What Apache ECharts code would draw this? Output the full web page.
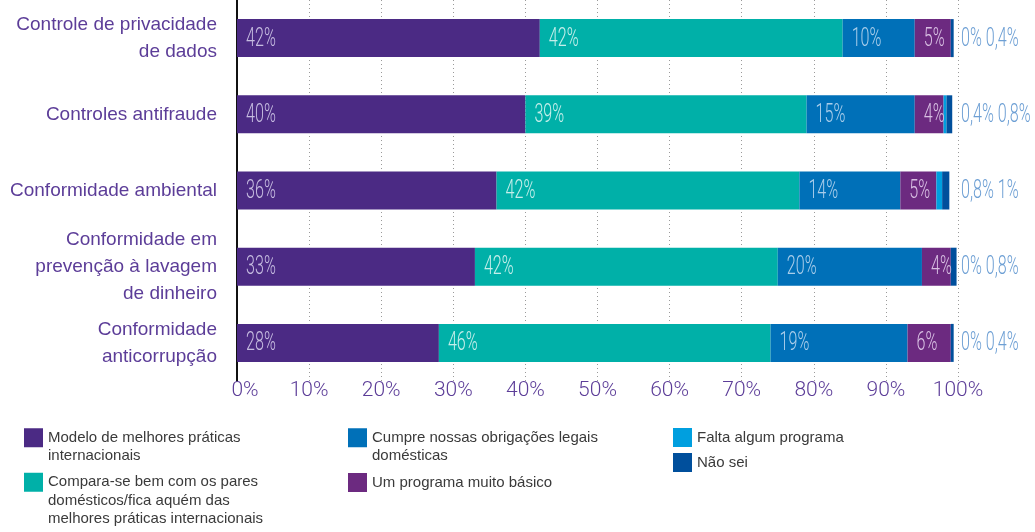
<!DOCTYPE html>
<html>
<head>
<meta charset="utf-8">
<script src="https://cdn.jsdelivr.net/npm/echarts@6/dist/echarts.min.js"></script>
<style>
  html, body { margin: 0; padding: 0; background: #fff; }
  #chart { width: 1035px; height: 532px; }
</style>
</head>
<body>
<div id="chart"></div>
<script>
// Program areas (top to bottom)
const categories = [
  'Controle de privacidade\nde dados',
  'Controles antifraude',
  'Conformidade ambiental',
  'Conformidade em\nprevenção à lavagem\nde dinheiro',
  'Conformidade\nanticorrupção'
];

// Share of respondents per maturity level (%)
const modelo   = [42, 40, 36, 33, 28];
const compara  = [42, 39, 42, 42, 46];
const cumpre   = [10, 15, 14, 20, 19];
const basico   = [5, 4, 5, 4, 6];
const falta    = [0, 0.4, 0.8, 0, 0];
const naoSei   = [0.4, 0.8, 1, 0.8, 0.4];

const xTicks = [0, 10, 20, 30, 40, 50, 60, 70, 80, 90, 100];

const seriesNames = [
  'Modelo de melhores práticas\ninternacionais',
  'Compara-se bem com os pares\ndomésticos/fica aquém das\nmelhores práticas internacionais',
  'Cumpre nossas obrigações legais\ndomésticas',
  'Um programa muito básico',
  'Falta algum programa',
  'Não sei'
];
const colors = ['#4b2a84', '#00b0a8', '#0070b8', '#6c2a80', '#009fdf', '#004f9c'];
const labelColors = ['#c6bce0', '#c4eeea', '#a9cdea', '#d8bfe2'];
const sideLabelColor = '#6d9fd4';

const sans = "'Liberation Sans', Arial, sans-serif";
const fmt = v => String(v).replace('.', ',');

const chart = echarts.init(document.getElementById('chart'), null, { renderer: 'canvas' });

const stacked = [modelo, compara, cumpre, basico, falta, naoSei];

const bars = stacked.map((data, idx) => ({
  name: seriesNames[idx],
  type: 'bar',
  stack: 'total',
  barWidth: 38,
  data: data,
  itemStyle: { color: colors[idx] },
  emphasis: { disabled: true }
}));

// Value labels: placed at the start of each segment, plus the two small
// categories shown together to the right of each bar.
const labelItems = [];
categories.forEach((c, i) => {
  let start = 0;
  stacked.forEach((arr, s) => {
    if (s < 4) {
      labelItems.push({ x: start, cat: i, text: fmt(arr[i]) + '%', color: labelColors[s], dx: 9 });
    }
    start += arr[i];
  });
  labelItems.push({
    x: 100, cat: i,
    text: fmt(falta[i]) + '% ' + fmt(naoSei[i]) + '%',
    color: sideLabelColor, dx: 3
  });
});

const labelSeries = {
  type: 'custom',
  name: 'labels',
  coordinateSystem: 'cartesian2d',
  silent: true,
  z: 5,
  data: labelItems.map(d => [d.x, d.cat]),
  encode: { x: 0, y: 1 },
  renderItem: (params, api) => {
    const d = labelItems[params.dataIndex];
    const p = api.coord([api.value(0), api.value(1)]);
    return {
      type: 'text',
      x: p[0] + d.dx,
      y: p[1] + 1,
      scaleX: 0.62,
      style: {
        text: d.text,
        fontFamily: 'Roboto, sans-serif',
        fontWeight: 300,
        fontSize: 26,
        fill: d.color,
        align: 'left',
        verticalAlign: 'middle'
      }
    };
  }
};

// Legend: one component per entry, laid out in three columns.
// Leading blank lines keep the swatch level with the first text line.
const LH = 18.5;
function legendItem(idx, left, top, lines) {
  return {
    data: [seriesNames[idx]],
    left: left,
    top: top,
    padding: 0,
    itemWidth: 19,
    itemHeight: 19,
    icon: 'rect',
    selectedMode: false,
    formatter: name => '\n'.repeat(lines - 1) + name,
    textStyle: { fontSize: 15, color: '#3a3a3a', lineHeight: LH, fontFamily: sans }
  };
}

const option = {
  animation: false,
  color: colors,
  grid: { left: 237, right: 77, top: 0, height: 381, containLabel: false },
  xAxis: {
    type: 'value',
    min: 0,
    max: 100,
    interval: 10,
    axisLine: { show: false },
    axisTick: { show: false },
    axisLabel: {
      margin: -1,
      fontSize: 21,
      color: '#5c3d98',
      fontFamily: 'Roboto, sans-serif',
      fontWeight: 300,
      formatter: v => {
        if (!xTicks.includes(v)) return '';
        return v === 0 ? '{first|0%}' : v + '%';
      },
      rich: {
        first: {
          fontSize: 21,
          color: '#5c3d98',
          fontFamily: 'Roboto, sans-serif',
          fontWeight: 300,
          padding: [0, 0, 0, 16]
        }
      }
    },
    splitLine: { show: true, lineStyle: { color: '#9a9a9a', type: [1, 3], width: 1 } }
  },
  yAxis: {
    type: 'category',
    data: categories,
    inverse: true,
    axisLine: { show: true, lineStyle: { color: '#111', width: 2 } },
    axisTick: { show: false },
    axisLabel: {
      margin: 20,
      fontSize: 19,
      lineHeight: 27,
      align: 'right',
      color: '#5c3d98',
      fontFamily: sans
    }
  },
  legend: [
    legendItem(0, 24, 410, 2),
    legendItem(1, 24, 436, 3),
    legendItem(2, 348, 410, 2),
    legendItem(3, 348, 473, 1),
    legendItem(4, 673, 428, 1),
    legendItem(5, 673, 453, 1)
  ],
  series: bars.concat([labelSeries])
};

chart.setOption(option);
</script>
</body>
</html>
